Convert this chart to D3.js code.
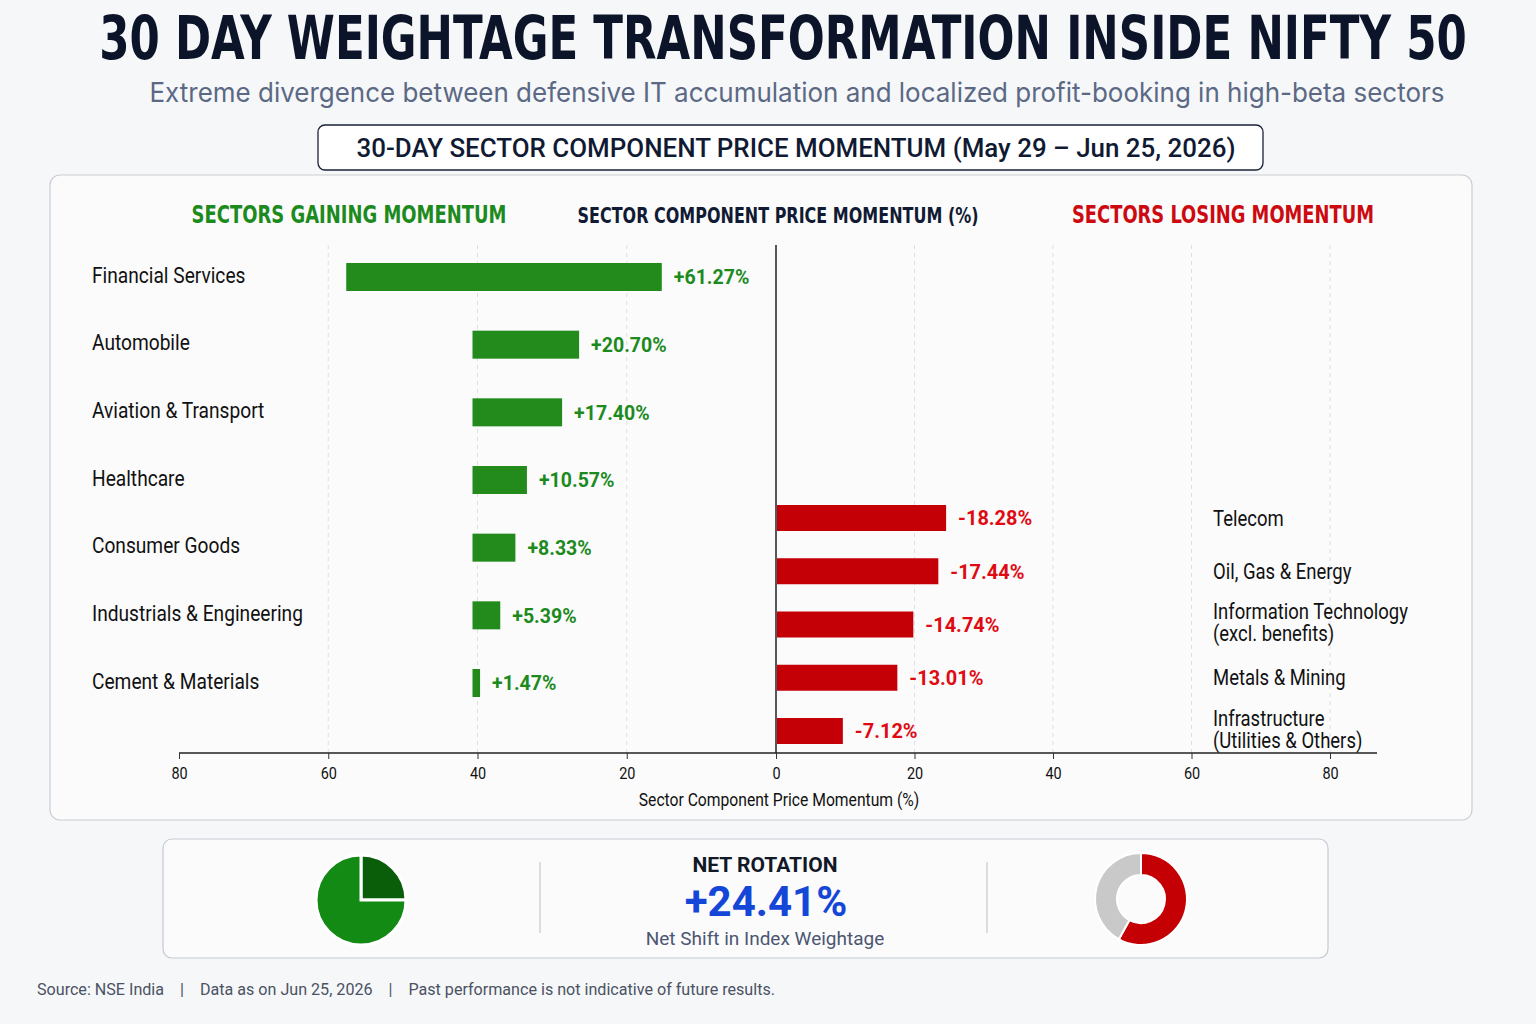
<!DOCTYPE html>
<html>
  <head>
    <title>Nifty 50 Weightage Transformation</title>
    <meta http-equiv="Content-Type" content="text/html;charset=utf-8">
    <script src="https://cdn.jsdelivr.net/npm/d3@7"></script>
    <style>
      body { margin: 0; background: #f6f7f9; }
      .narrow { font-family: "Liberation Sans Narrow", "DejaVu Sans Condensed", "Roboto Condensed", sans-serif; font-stretch: condensed; }
      .rob { font-family: Roboto, "Noto Sans", sans-serif; }
      .plain { font-family: Inter, "Noto Sans", sans-serif; }
      .gridline { stroke: #dcdfe3; stroke-dasharray: 4 4; }
    </style>
  </head>
  <body>
    <div id="chart"></div>
    <script>
      (function(d3) {
        'use strict';

        // sectors gaining momentum (30 day %)
        var gainSectors = ['Financial Services', 'Automobile', 'Aviation & Transport', 'Healthcare',
          'Consumer Goods', 'Industrials & Engineering', 'Cement & Materials'];
        var gainValues = [61.27, 20.70, 17.40, 10.57, 8.33, 5.39, 1.47];

        // sectors losing momentum
        var lossSectors = ['Telecom', 'Oil, Gas & Energy', 'Information Technology|(excl. benefits)',
          'Metals & Mining', 'Infrastructure|(Utilities & Others)'];
        var lossValues = [-18.28, -17.44, -14.74, -13.01, -7.12];

        var axisTicks = [-80, -60, -40, -20, 0, 20, 40, 60, 80];
        var netRotation = 24.41;
        var gainPieShares = [25, 75];
        var lossDonutShares = [58, 42];

        var width = 1536;
        var height = 1024;
        var green = '#228b1c';
        var greenText = '#1d8a1d';
        var red = '#c40006';
        var redText = '#e00b12';
        var navy = '#111a33';

        // fake a condensed face: squeeze each text by a factor of its natural width
        function squeeze(sel, f) {
          sel.each(function() {
            var w = this.getComputedTextLength();
            d3.select(this).attr('textLength', w * f).attr('lengthAdjust', 'spacingAndGlyphs');
          });
        }

        var svg = d3.select('#chart')
          .append('svg')
          .attr('width', width)
          .attr('height', height);

        // title: scale the whole text so its box really is 1368 wide
        var title = svg.append('text')
          .attr('class', 'narrow')
          .attr('text-anchor', 'middle')
          .style('font-size', '60px').style('font-weight', 700)
          .style('fill', '#0c1429')
          .text('30 DAY WEIGHTAGE TRANSFORMATION INSIDE NIFTY 50');
        var tw = title.node().getComputedTextLength();
        title.attr('transform', 'translate(783,59) scale(' + (1368 / tw) + ',1)');

        svg.append('text')
          .attr('class', 'plain')
          .attr('x', 797).attr('y', 102)
          .attr('text-anchor', 'middle')
          .attr('textLength', 1295)
          .attr('lengthAdjust', 'spacingAndGlyphs')
          .style('font-size', '27px')
          .style('fill', '#5b6984')
          .text('Extreme divergence between defensive IT accumulation and localized profit-booking in high-beta sectors');

        // boxed chart title
        svg.append('rect')
          .attr('x', 318).attr('y', 125).attr('width', 945).attr('height', 45)
          .attr('rx', 7)
          .style('fill', '#fff').style('stroke', '#1a2238').style('stroke-width', 1.3);
        svg.append('text')
          .attr('class', 'rob')
          .attr('x', 796).attr('y', 157)
          .attr('text-anchor', 'middle')
          .attr('textLength', 879)
          .attr('lengthAdjust', 'spacingAndGlyphs')
          .style('font-size', '25px').style('font-weight', 500)
          .style('fill', navy)
          .text('30-DAY SECTOR COMPONENT PRICE MOMENTUM (May 29 \u2013 Jun 25, 2026)');

        // main panel
        svg.append('rect')
          .attr('x', 50).attr('y', 175).attr('width', 1422).attr('height', 645)
          .attr('rx', 10)
          .style('fill', '#fbfbfc').style('stroke', '#c9cdd3').style('stroke-width', 1.2);

        var headers = [
          { t: 'SECTORS GAINING MOMENTUM', x: 349, w: 315, c: greenText, s: 24 },
          { t: 'SECTOR COMPONENT PRICE MOMENTUM (%)', x: 778, w: 401, c: navy, s: 21 },
          { t: 'SECTORS LOSING MOMENTUM', x: 1223, w: 302, c: '#cc0a0f', s: 24 }
        ];
        svg.selectAll('.hdr')
          .data(headers)
          .enter().append('text')
          .attr('class', 'hdr narrow')
          .attr('x', function(d) { return d.x; })
          .attr('y', 223)
          .attr('text-anchor', 'middle')
          .attr('textLength', function(d) { return d.w; })
          .attr('lengthAdjust', 'spacingAndGlyphs')
          .style('font-size', function(d) { return d.s + 'px'; })
          .style('font-weight', 700)
          .style('fill', function(d) { return d.c; })
          .text(function(d) { return d.t; });

        // scales
        var x = d3.scaleLinear().domain([-80, 0, 80]).range([179, 776, 1330]);
        var gainLen = d3.scaleLinear().domain([0, 20]).range([0, 103]);
        var lossLen = d3.scaleLinear().domain([0, 20]).range([0, 185]);
        var yGain = d3.scalePoint().domain(gainSectors).range([277, 683]);
        var yLoss = d3.scalePoint().domain(lossSectors).range([518, 731]);
        var axisY = 753;
        var plotTop = 245;

        // dashed gridlines
        svg.selectAll('.gridline')
          .data(axisTicks.filter(function(d) { return d !== 0 && d !== -80; }))
          .enter().append('line')
          .attr('class', 'gridline')
          .attr('x1', x).attr('x2', x)
          .attr('y1', plotTop).attr('y2', axisY);

        // axis
        var axis = d3.axisBottom(x)
          .tickValues(axisTicks)
          .tickSize(6)
          .tickFormat(function(d) { return Math.abs(d); });
        var ax = svg.append('g')
          .attr('transform', 'translate(0,' + axisY + ')')
          .call(axis);
        ax.select('.domain').attr('d', 'M179,0H1377').style('stroke', '#222').style('stroke-width', 1.5);
        ax.selectAll('.tick line').style('stroke', '#333');
        ax.selectAll('.tick text')
          .attr('class', 'rob')
          .attr('y', 14)
          .style('font-size', '17px').style('fill', '#111')
          .call(squeeze, 0.85);

        svg.append('text')
          .attr('class', 'rob')
          .attr('x', 779).attr('y', 806)
          .attr('text-anchor', 'middle')
          .style('font-size', '18px').style('fill', '#111')
          .text('Sector Component Price Momentum (%)')
          .call(squeeze, 0.87);

        // zero line
        svg.append('line')
          .attr('x1', x(0)).attr('x2', x(0))
          .attr('y1', plotTop).attr('y2', axisY)
          .style('stroke', '#222').style('stroke-width', 1.5);

        // gainers
        var gainData = gainSectors.map(function(s, i) { return { name: s, value: gainValues[i] }; });
        var roomLeft = x(0) - x(-40) - 110;
        function gainStart(d) {
          return gainLen(d.value) > roomLeft ? x(-60) + 18 : x(-40) - 5;
        }

        var gRows = svg.selectAll('.gain')
          .data(gainData)
          .enter().append('g')
          .attr('class', 'gain')
          .attr('transform', function(d) { return 'translate(0,' + yGain(d.name) + ')'; });

        gRows.append('text')
          .attr('class', 'rob')
          .attr('x', 92).attr('dy', '0.35em').attr('y', -2)
          .style('font-size', '22px').style('fill', '#111')
          .text(function(d) { return d.name; })
          .call(squeeze, 0.87);

        gRows.append('rect')
          .attr('x', gainStart)
          .attr('y', -14)
          .attr('height', 28)
          .attr('width', function(d) { return gainLen(d.value); })
          .style('fill', green);

        gRows.append('text')
          .attr('class', 'rob')
          .attr('x', function(d) { return gainStart(d) + gainLen(d.value) + 12; })
          .attr('dy', '0.35em')
          .style('font-size', '21px').style('font-weight', 700)
          .style('fill', greenText)
          .text(function(d) { return '+' + d.value.toFixed(2) + '%'; })
          .call(squeeze, 0.93);

        // losers
        var lossData = lossSectors.map(function(s, i) { return { name: s, value: lossValues[i] }; });
        var lRows = svg.selectAll('.loss')
          .data(lossData)
          .enter().append('g')
          .attr('class', 'loss')
          .attr('transform', function(d) { return 'translate(0,' + yLoss(d.name) + ')'; });

        lRows.append('rect')
          .attr('x', x(0) + 1)
          .attr('y', -13)
          .attr('height', 26)
          .attr('width', function(d) { return lossLen(-d.value); })
          .style('fill', red);

        lRows.append('text')
          .attr('class', 'rob')
          .attr('x', function(d) { return x(0) + lossLen(-d.value) + 13; })
          .attr('dy', '0.35em')
          .style('font-size', '21px').style('font-weight', 700)
          .style('fill', redText)
          .text(function(d) { return d.value.toFixed(2) + '%'; })
          .call(squeeze, 0.95);

        lRows.each(function(d) {
          var lines = d.name.split('|');
          var t = d3.select(this).append('text')
            .attr('class', 'rob')
            .style('font-size', '22px').style('fill', '#111');
          lines.forEach(function(line, i) {
            t.append('tspan')
              .attr('x', 1213)
              .attr('y', lines.length > 1 ? (i === 0 ? -13 : 9) : 0)
              .attr('dy', '0.35em')
              .text(line);
          });
          t.selectAll('tspan').call(squeeze, 0.84);
        });

        // summary strip
        svg.append('rect')
          .attr('x', 163).attr('y', 839).attr('width', 1165).attr('height', 119)
          .attr('rx', 9)
          .style('fill', '#fbfbfc').style('stroke', '#c3c9d2').style('stroke-width', 1.2);
        svg.selectAll('.divider')
          .data([540, 987])
          .enter().append('line')
          .attr('class', 'divider')
          .attr('x1', function(d) { return d; }).attr('x2', function(d) { return d; })
          .attr('y1', 862).attr('y2', 933)
          .style('stroke', '#c5c9d0').style('stroke-width', 1.2);

        var pie = d3.pie().sort(null);

        var pieArc = d3.arc().innerRadius(0).outerRadius(45);
        svg.append('g')
          .attr('transform', 'translate(361,900)')
          .selectAll('path')
          .data(pie(gainPieShares))
          .enter().append('path')
          .attr('d', pieArc)
          .attr('fill', function(d, i) { return i === 0 ? '#0a5e0a' : '#138a13'; })
          .style('stroke', '#fff').style('stroke-width', 3);

        var donutArc = d3.arc().innerRadius(24).outerRadius(46);
        svg.append('g')
          .attr('transform', 'translate(1141,899)')
          .selectAll('path')
          .data(pie(lossDonutShares))
          .enter().append('path')
          .attr('d', donutArc)
          .attr('fill', function(d, i) { return i === 0 ? '#c40004' : '#c9c9c9'; })
          .style('stroke', '#fff').style('stroke-width', 2);

        svg.append('text')
          .attr('class', 'rob')
          .attr('x', 765).attr('y', 872)
          .attr('text-anchor', 'middle')
          .style('font-size', '21px').style('font-weight', 700)
          .style('fill', '#111827')
          .text('NET ROTATION');

        svg.append('text')
          .attr('class', 'rob')
          .attr('x', 766).attr('y', 916)
          .attr('text-anchor', 'middle')
          .style('font-size', '42px').style('font-weight', 700)
          .style('fill', '#1446d8')
          .text('+' + netRotation.toFixed(2) + '%');

        svg.append('text')
          .attr('class', 'rob')
          .attr('x', 765).attr('y', 945)
          .attr('text-anchor', 'middle')
          .style('font-size', '19px')
          .style('fill', '#4b5670')
          .text('Net Shift in Index Weightage');

        // footer
        svg.append('text')
          .attr('class', 'rob')
          .attr('x', 37).attr('y', 995)
          .attr('textLength', 738)
          .attr('lengthAdjust', 'spacingAndGlyphs')
          .style('font-size', '16px').style('fill', '#4a5263')
          .attr('xml:space', 'preserve')
          .text('Source: NSE India    |    Data as on Jun 25, 2026    |    Past performance is not indicative of future results.');

      })(window.d3);
    </script>
  </body>
</html>
